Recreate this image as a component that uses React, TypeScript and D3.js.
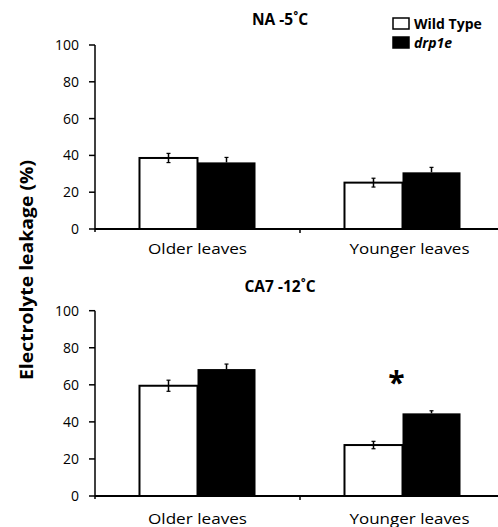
import React from "react";
import * as d3 from "d3";

const categories = ["Older leaves", "Younger leaves"];
const series = ["Wild Type", "drp1e"];
const yTicks = [0, 20, 40, 60, 80, 100];

// NA -5°C
const naMeans = [
  [38.6, 36.2],
  [25.2, 30.8],
];
const naErrors = [
  [2.5, 2.7],
  [2.4, 2.7],
];

// CA7 -12°C
const caMeans = [
  [59.5, 68.5],
  [27.5, 44.6],
];
const caErrors = [
  [3, 2.7],
  [2, 1.4],
];

const panels = [
  { title: "NA -5\u02DAC", means: naMeans, errors: naErrors, top: 45, bottom: 229, labelY: 254, titleY: 25, star: false },
  { title: "CA7 -12\u02DAC", means: caMeans, errors: caErrors, top: 310.7, bottom: 496, labelY: 524, titleY: 292, star: true },
];

const font = "'Open Sans', 'DejaVu Sans', sans-serif";
const fills = ["#ffffff", "#000000"];

const x = d3.scaleBand<string>().domain(categories).range([95, 505]).paddingInner(0);
const xSub = d3
  .scaleBand<string>()
  .domain(series)
  .range([0, x.bandwidth()])
  .paddingInner(0)
  .paddingOuter(0.767);

const Panel = ({ p }: { p: (typeof panels)[number] }) => {
  const y = d3.scaleLinear().domain([0, 100]).range([p.bottom, p.top]);
  const bw = xSub.bandwidth();
  return (
    <g>
      <text x={280} y={p.titleY} textAnchor="middle" fontFamily={font} fontWeight="bold" fontSize={15.5}>
        {p.title}
      </text>
      {/* bars */}
      {categories.map((c, ci) =>
        series.map((s, si) => {
          const x0 = (x(c) ?? 0) + (xSub(s) ?? 0);
          const v = p.means[ci][si];
          const e = p.errors[ci][si];
          const cx = x0 + bw / 2;
          return (
            <g key={c + s}>
              <rect
                x={x0}
                y={y(v)}
                width={bw}
                height={y(0) - y(v)}
                fill={fills[si]}
                stroke="#000"
                strokeWidth={si === 0 ? 2 : 0}
              />
              <line x1={cx} x2={cx} y1={y(v + e)} y2={si === 0 ? y(v - e) : y(v)} stroke="#000" strokeWidth={1.5} />
              <line x1={cx - 2} x2={cx + 2} y1={y(v + e)} y2={y(v + e)} stroke="#000" strokeWidth={1.2} />
              {si === 0 && (
                <line x1={cx - 2} x2={cx + 2} y1={y(v - e)} y2={y(v - e)} stroke="#000" strokeWidth={1.2} />
              )}
            </g>
          );
        })
      )}
      {/* y axis */}
      <line x1={95} x2={95} y1={p.top} y2={p.bottom + 3} stroke="#000" strokeWidth={1.5} />
      {yTicks.map((t) => (
        <g key={t}>
          <line x1={89} x2={95} y1={y(t)} y2={y(t)} stroke="#000" strokeWidth={1.5} />
          <text x={79} y={y(t)} dy="0.35em" textAnchor="end" fontFamily={font} fontSize={14} fontWeight={500}>
            {t}
          </text>
        </g>
      ))}
      {/* x axis */}
      <line x1={95} x2={498} y1={p.bottom} y2={p.bottom} stroke="#000" strokeWidth={2} />
      <line x1={300} x2={300} y1={p.bottom} y2={p.bottom + 4} stroke="#000" strokeWidth={1.5} />
      {categories.map((c) => (
        <text
          key={c}
          x={(x(c) ?? 0) + x.bandwidth() / 2 + (c === "Younger leaves" ? 7 : 0)}
          y={p.labelY}
          textAnchor="middle"
          fontFamily={font}
          fontSize={15}
          fontWeight={500}
          textLength={c === "Younger leaves" ? 120 : 99}
          lengthAdjust="spacingAndGlyphs"
        >
          {c}
        </text>
      ))}
      {p.star && (
        <text
          x={(x("Younger leaves") ?? 0) + x.bandwidth() / 2 - 6}
          y={y(p.means[1][1] + p.errors[1][1]) - 18}
          textAnchor="middle"
          fontFamily={font}
          fontWeight="bold"
          fontSize={30}
        >
          *
        </text>
      )}
    </g>
  );
};

export default function App() {
  return (
    <svg
      width={498}
      height={527}
      style={{ position: "absolute", left: 0, top: 0, background: "#fff" }}
    >
      {panels.map((p) => (
        <Panel key={p.title} p={p} />
      ))}
      {/* legend */}
      {series.map((s, i) => (
        <g key={s} transform={`translate(393,${18 + i * 19})`}>
          <rect x={0} y={0} width={16} height={11} fill={fills[i]} stroke="#000" strokeWidth={1.5} />
          <text
            x={21}
            y={11}
            fontFamily={font}
            fontWeight="bold"
            fontStyle={i === 1 ? "italic" : "normal"}
            fontSize={14}
          >
            {s}
          </text>
        </g>
      ))}
      <text
        transform="translate(33,270) rotate(-90)"
        textAnchor="middle"
        fontFamily={font}
        fontWeight="bold"
        fontSize={17}
        textLength={220}
        lengthAdjust="spacingAndGlyphs"
      >
        Electrolyte leakage (%)
      </text>
    </svg>
  );
}
